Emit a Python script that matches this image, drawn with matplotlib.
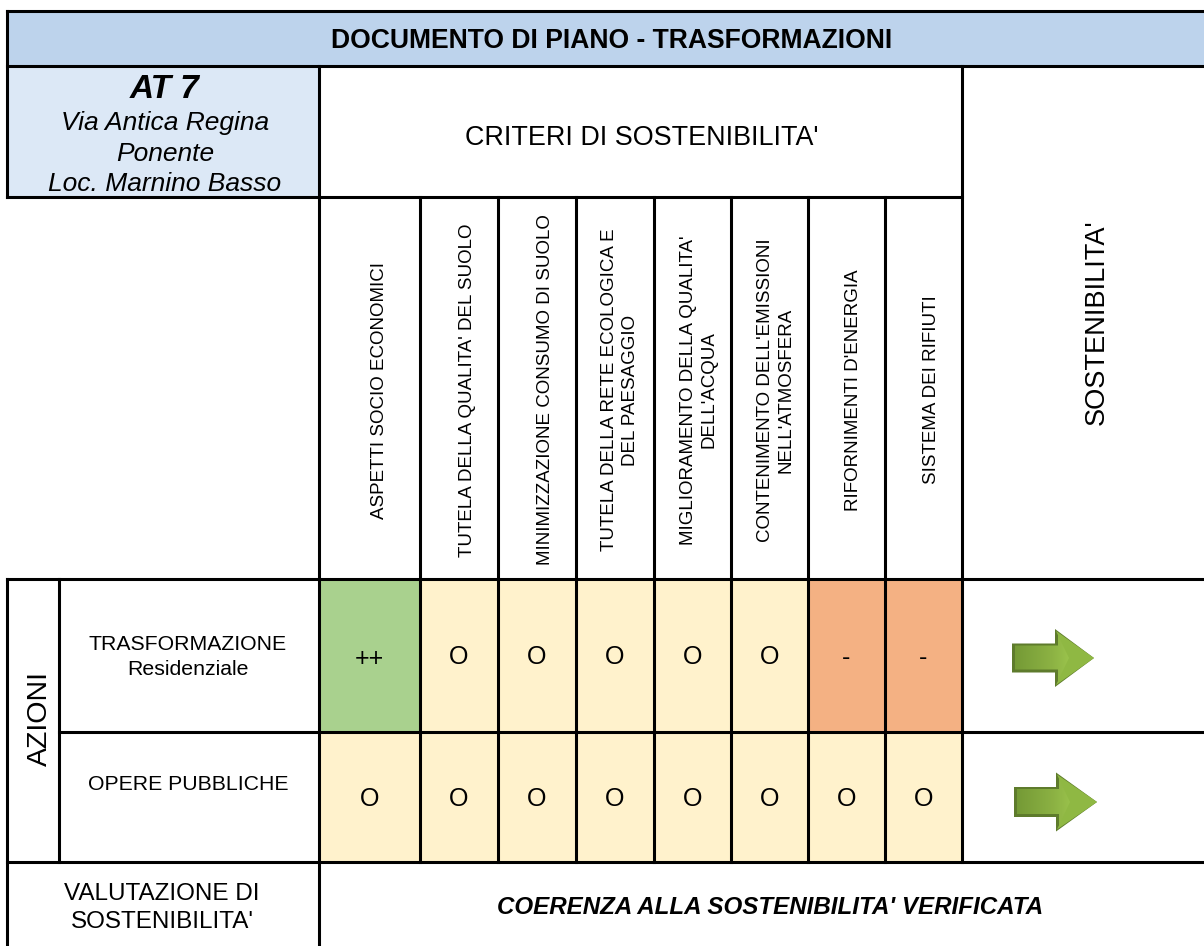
import matplotlib
matplotlib.use("Agg")
import matplotlib.pyplot as plt
import numpy as np
from matplotlib.patches import Rectangle, Polygon

plt.rcParams['font.family'] = ['Liberation Sans', 'DejaVu Sans']

title = "DOCUMENTO DI PIANO - TRASFORMAZIONI"
at_title = "AT 7"
at_lines = ["Via Antica Regina", "Ponente", "Loc. Marnino Basso"]
criteria_header = "CRITERI DI SOSTENIBILITA'"
sustain_header = "SOSTENIBILITA'"
criteria = ["ASPETTI SOCIO ECONOMICI", "TUTELA DELLA QUALITA' DEL SUOLO",
            "MINIMIZZAZIONE CONSUMO DI SUOLO", "TUTELA DELLA RETE ECOLOGICA E\nDEL PAESAGGIO",
            "MIGLIORAMENTO DELLA QUALITA'\nDELL'ACQUA", "CONTENIMENTO DELL'EMISSIONI\nNELL'ATMOSFERA",
            "RIFORNIMENTI D'ENERGIA", "SISTEMA DEI RIFIUTI"]
actions = ["TRASFORMAZIONE\nResidenziale", "OPERE PUBBLICHE"]
ratings_residenziale = ["++", "O", "O", "O", "O", "O", "-", "-"]
ratings_opere = ["O", "O", "O", "O", "O", "O", "O", "O"]
side_label = "AZIONI"
eval_label = "VALUTAZIONE DI\nSOSTENIBILITA'"
eval_result = "COERENZA ALLA SOSTENIBILITA' VERIFICATA"

# layout (pixels)
W, H = 1204, 946
X = [319, 420, 498, 576, 654, 731, 808, 885, 962]
CRIT_X = [379, 467, 545, 620, 698.5, 776, 854, 931]
L, AZ = 7, 59
Y_TOP, Y_T, Y_H, Y_C, Y_R1, Y_R2 = 11, 66, 197, 579, 732, 862
LW = 2.2
FILL = {"++": "#A9D18E", "O": "#FFF2CC", "-": "#F4B183"}
RATING_DY = {"++": 3.5, "O": 1.5, "-": 2.5}

fig = plt.figure(figsize=(W / 100, H / 100), dpi=100)
ax = fig.add_axes([0, 0, 1, 1])
ax.set_xlim(0, W)
ax.set_ylim(H, 0)
ax.axis("off")

def rect(x0, y0, x1, y1, c):
    ax.add_patch(Rectangle((x0, y0), x1 - x0, y1 - y0, fc=c, ec="none", zorder=1))

def hl(y, x0, x1):
    ax.plot([x0, x1], [y, y], color="black", lw=LW, solid_capstyle="projecting", zorder=3)

def vl(x, y0, y1):
    ax.plot([x, x], [y0, y1], color="black", lw=LW, solid_capstyle="projecting", zorder=3)

rect(L, Y_TOP, W, Y_T, "#BDD3EC")
rect(L, Y_T, X[0], Y_H, "#DCE8F6")
rows = [(Y_C, Y_R1, ratings_residenziale), (Y_R1, Y_R2, ratings_opere)]
for y0, y1, vals in rows:
    for i, v in enumerate(vals):
        rect(X[i], y0, X[i + 1], y1, FILL[v])
        ax.text((X[i] + X[i + 1]) / 2, (y0 + y1) / 2 + RATING_DY[v], v, ha="center", va="center",
                fontsize=18, color="black", zorder=4)

for y, x0, x1 in [(Y_TOP, L, W), (Y_T, L, W), (Y_H, L, X[-1]), (Y_C, L, W), (Y_R1, AZ, W), (Y_R2, L, W)]:
    hl(y, x0, x1)
vl(L, Y_TOP, Y_H)
vl(L, Y_C, H)
vl(AZ, Y_C, Y_R2)
vl(X[0], Y_T, H)
vl(X[-1], Y_T, Y_R2)
for x in X[1:-1]:
    vl(x, Y_H, Y_R2)

ax.text(612, 41, title, ha="center", va="center", fontsize=19.1, fontweight="bold", zorder=4)
ax.text(165, 89, at_title, ha="center", va="center", fontsize=24, fontweight="bold", style="italic", zorder=4)
for y, s in zip([123, 154, 184], at_lines):
    ax.text(165, y, s, ha="center", va="center", fontsize=19, style="italic", zorder=4)
ax.text(642, 138, criteria_header, ha="center", va="center", fontsize=19.4, zorder=4)
ax.text(1097, 322, sustain_header, ha="center", va="center", rotation=90, fontsize=19.6, zorder=4)
for i, s in enumerate(criteria):
    ax.text(CRIT_X[i], 390, s, ha="center", va="center", rotation=90, fontsize=13.5,
            linespacing=1.3, zorder=4)
ax.text(188, 657, actions[0], ha="center", va="center", fontsize=15.3, linespacing=1.35, zorder=4)
ax.text(188, 784.5, actions[1], ha="center", va="center", fontsize=15.3, zorder=4)
ax.text(40, 718, side_label, ha="center", va="center", rotation=90, fontsize=20.5, zorder=4)
ax.text(162, 908, eval_label, ha="center", va="center", fontsize=17.5, linespacing=1.3, zorder=4)
ax.text(770, 907, eval_result, ha="center", va="center", fontsize=17.4, fontweight="bold", style="italic", zorder=4)

def arrow(x0, xb, xt, yc, hs, hh):
    pts = [(x0, yc - hs), (xb, yc - hs), (xb, yc - hh), (xt, yc), (xb, yc + hh), (xb, yc + hs), (x0, yc + hs)]
    ax.add_patch(Polygon(pts, closed=True, fc="#5E7B2C", ec="none", zorder=5))
    inner = Polygon([(x0 + 3, yc - hs + 2), (xb + 3, yc - hs + 2), (xb + 3, yc - hh + 5), (xt - 1, yc),
                     (xb + 3, yc + hh - 5), (xb + 3, yc + hs - 3), (x0 + 3, yc + hs - 3)],
                    closed=True, fc="none", ec="none", transform=ax.transData)
    ax.add_patch(inner)
    grad = np.linspace(0, 1, 128).reshape(1, -1)
    cmap = matplotlib.colors.LinearSegmentedColormap.from_list("g", ["#739835", "#8DB344", "#AEDB58"])
    im = ax.imshow(grad, extent=(x0, xt, yc + hh, yc - hh), cmap=cmap, aspect="auto", zorder=6)
    im.set_clip_path(inner)
    head = Polygon([(xb + 1, yc - hh + 2), (xt, yc), (xb + 1, yc + hh - 2), (xb + 14, yc)],
                   closed=True, fc="#8FB843", ec="none", zorder=6)
    ax.add_patch(head)
    ax.set_xlim(0, W)
    ax.set_ylim(H, 0)

arrow(1012, 1055, 1094, 658, 14.5, 29)
arrow(1014, 1056, 1097, 802, 15, 29.5)

fig.savefig("out.png", dpi=100, facecolor="white")
